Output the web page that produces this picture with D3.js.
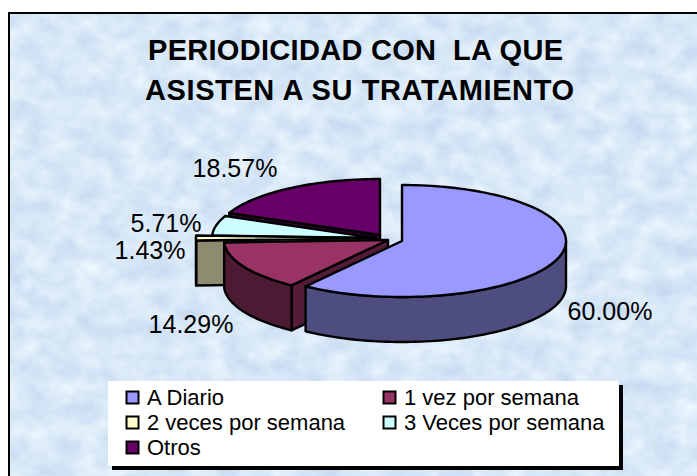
<!DOCTYPE html>
<html>
<head>
<meta charset="utf-8">
<script src="https://cdnjs.cloudflare.com/ajax/libs/d3/7.8.5/d3.min.js"></script>
<style>
html,body{margin:0;padding:0;background:#fff}
svg{display:block}
text{font-family:"Liberation Sans",Arial,sans-serif;fill:#000;white-space:pre}
</style>
</head>
<body>
<svg id="chart" width="697" height="476"></svg>
<script>
const titleLines = ["PERIODICIDAD CON  LA QUE", "ASISTEN A SU TRATAMIENTO"];
const categories = ["A Diario", "1 vez por semana", "2 veces por semana", "3 Veces por semana", "Otros"];
const values = [60.00, 14.29, 1.43, 5.71, 18.57];
const colors = ["#9999FF", "#993366", "#FFFFCC", "#CCFFFF", "#660066"];

// layout (not data)
const W = 697, H = 476, RX = 164, RY = 56, DEPTH = 45;
const apexes = [[402, 241], [388, 240], [360, 238], [376, 238], [380, 235]];
const labelPos = [[610, 320], [191, 333], [150, 259], [166, 232], [235, 177]];
const drawOrder = [4, 3, 2, 1, 0];

const svg = d3.select("#chart");
const defs = svg.append("defs");
const f = defs.append("filter").attr("id", "tex").attr("x", 0).attr("y", 0).attr("width", "100%").attr("height", "100%")
  .attr("color-interpolation-filters", "sRGB");
f.append("feTurbulence").attr("type", "fractalNoise").attr("baseFrequency", "0.04 0.05").attr("numOctaves", 3).attr("seed", 7);
f.append("feColorMatrix").attr("type", "matrix").attr("values",
  "0.20 0 0 0 0.75  0.16 0 0 0 0.83  0.07 0 0 0 0.935  0 0 0 0 1");

svg.append("rect").attr("x", 9).attr("y", 13).attr("width", W - 9).attr("height", H - 13).attr("filter", "url(#tex)");
svg.append("path").attr("d", `M9,${H}V13H${W}`).attr("fill", "none").attr("stroke", "#000").attr("stroke-width", 2);

// title
svg.selectAll("text.title").data(titleLines).join("text").attr("class", "title")
  .attr("x", (d, i) => [148, 145][i]).attr("y", (d, i) => [60, 100][i])
  .attr("textLength", (d, i) => [415, 429][i]).attr("lengthAdjust", "spacing")
  .attr("font-weight", "bold").attr("font-size", 29)
  .text(d => d);

// pie
const pie = d3.pie().sort(null).value(d => d);
const arcs = pie(values);
const pt = (a, c, dy = 0) => [c[0] + RX * Math.sin(a), c[1] - RY * Math.cos(a) + dy];
const arcPts = (a0, a1, c, dy = 0) => {
  const n = Math.max(2, Math.ceil((a1 - a0) / 0.03));
  return d3.range(n + 1).map(i => pt(a0 + (a1 - a0) * i / n, c, dy));
};
const line = d3.line();
const shade = (col, k) => { const r = d3.rgb(col); return d3.rgb(r.r * k, r.g * k, r.b * k).formatHex(); };
const g = svg.append("g").attr("stroke", "#000").attr("stroke-width", 2.4).attr("stroke-linejoin", "round");

drawOrder.forEach(i => {
  const s = arcs[i], c = apexes[i], col = colors[i];
  const a0 = s.startAngle, a1 = s.endAngle;
  // cut face at the start edge
  if (Math.sin(a0) < -1e-6) {
    const p = pt(a0, c);
    g.append("path").attr("fill", shade(col, 0.55))
      .attr("d", line([c, p, [p[0], p[1] + DEPTH], [c[0], c[1] + DEPTH]]) + "Z");
  }
  // outer wall (front half of the rim only)
  const w0 = Math.max(a0, Math.PI / 2), w1 = Math.min(a1, 3 * Math.PI / 2);
  if (w1 > w0) {
    const top = arcPts(w0, w1, c), bot = arcPts(w0, w1, c, DEPTH).reverse();
    g.append("path").attr("fill", shade(col, 0.5)).attr("d", line(top.concat(bot)) + "Z");
  }
  // top face
  g.append("path").attr("fill", col).attr("d", line([c].concat(arcPts(a0, a1, c))) + "Z");
});

// data labels
svg.selectAll("text.lab").data(arcs).join("text").attr("class", "lab")
  .attr("x", (d, i) => labelPos[i][0]).attr("y", (d, i) => labelPos[i][1])
  .attr("text-anchor", "middle").attr("font-size", 25)
  .text(d => d.data.toFixed(2) + "%");

// legend
svg.append("rect").attr("x", 112).attr("y", 385).attr("width", 511).attr("height", 85).attr("fill", "#000");
svg.append("rect").attr("x", 108).attr("y", 381).attr("width", 511).attr("height", 85).attr("fill", "#fff");
const lx = [126, 383], ly = [391, 416, 441];
const items = svg.selectAll("g.leg").data(categories).join("g").attr("class", "leg")
  .attr("transform", (d, i) => `translate(${lx[i % 2]},${ly[Math.floor(i / 2)]})`);
items.append("rect").attr("x", 0.5).attr("y", 0.5).attr("width", 12).attr("height", 12)
  .attr("fill", (d, i) => colors[i]).attr("stroke", "#000").attr("stroke-width", 2);
items.append("text").attr("x", 21).attr("y", 14).attr("font-size", 22).text(d => d);
</script>
</body>
</html>
